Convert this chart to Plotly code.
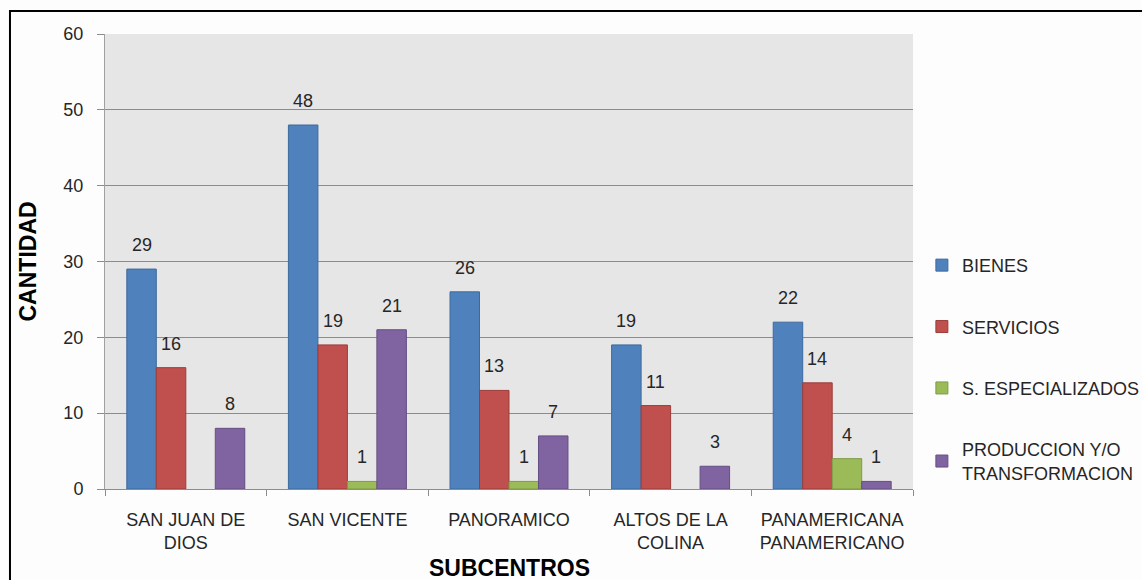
import plotly.graph_objects as go

subcentros = ["SAN JUAN DE<br>DIOS", "SAN VICENTE", "PANORAMICO",
              "ALTOS DE LA<br>COLINA", "PANAMERICANA<br>PANAMERICANO"]
bienes = [29, 48, 26, 19, 22]
servicios = [16, 19, 13, 11, 14]
especializados = [0, 1, 1, 0, 4]
produccion = [8, 21, 7, 3, 1]

series = [
    ("BIENES", bienes, "#4F81BD", "#3d6a9e"),
    ("SERVICIOS", servicios, "#C0504D", "#9b3c3a"),
    ("S. ESPECIALIZADOS", especializados, "#9BBB59", "#7e9a45"),
    ("PRODUCCION Y/O<br>TRANSFORMACION", produccion, "#8064A2", "#654e83"),
]

font = "Liberation Sans, Arial, sans-serif"
W, H = 1142, 580
ml, mr, mt, mb = 105, 229, 34, 91
bargap = 0.27

fig = go.Figure()
for name, vals, color, edge in series:
    fig.add_trace(go.Bar(
        x=subcentros, y=[v if v > 0 else None for v in vals],
        name=name, legendgroup=name,
        marker=dict(color=color, line=dict(color=edge, width=1)),
    ))

# value labels sit a bit higher above the bars than plotly's outside text
plot_w = W - ml - mr
bar_w = plot_w / len(subcentros) * (1 - bargap) / len(series)
for i, (name, vals, color, edge) in enumerate(series):
    for cat, v in zip(subcentros, vals):
        if v > 0:
            fig.add_annotation(x=cat, y=v, text=str(v), showarrow=False,
                               xshift=(i - (len(series) - 1) / 2) * bar_w,
                               yshift=24,
                               font=dict(size=18, color="#262626"))

fig.update_layout(
    width=W, height=H, autosize=False,
    margin=dict(l=ml, r=mr, t=mt, b=mb, autoexpand=False),
    paper_bgcolor="#fdfdfd", plot_bgcolor="#e6e6e6",
    font=dict(family=font, size=18, color="#262626"),
    barmode="group", bargap=bargap, bargroupgap=0,
    legend=dict(x=1.011, y=0.532, xanchor="left", yanchor="top",
                tracegroupgap=35, font=dict(size=18, color="#262626"),
                bgcolor="rgba(0,0,0,0)"),
    showlegend=True,
)
fig.update_yaxes(range=[0, 60], dtick=10, showgrid=True, gridcolor="#8c8c8c",
                 gridwidth=1, showline=True, linecolor="#a0a0a0", linewidth=1,
                 ticks="outside", ticklen=7, tickcolor="#8c8c8c",
                 ticklabelstandoff=10, zeroline=False, automargin=False)
fig.update_xaxes(showline=True, linecolor="#8c8c8c", linewidth=1,
                 ticks="outside", tickson="boundaries", ticklen=6,
                 tickcolor="#8c8c8c", ticklabelstandoff=14, automargin=False)

fig.add_annotation(text="<b>CANTIDAD</b>", xref="paper", yref="paper",
                   x=0, y=0.5, xshift=-93, textangle=-90, showarrow=False,
                   font=dict(size=23, color="#000000"))
fig.add_annotation(text="<b>SUBCENTROS</b>", xref="paper", yref="paper",
                   x=0.5, y=0, yshift=-79, yanchor="middle", showarrow=False,
                   font=dict(size=23, color="#000000"))

# outer chart border
fig.add_shape(type="rect", xref="paper", yref="paper",
              x0=-0.1176, x1=1.6, y0=-0.5, y1=1.0505,
              line=dict(color="#000000", width=2))

# page sits flush with the window, like the original image
js = "document.body.style.margin = '0'; document.body.style.overflow = 'hidden';"
fig.write_html("out.html", config={"displayModeBar": False}, post_script=js)
